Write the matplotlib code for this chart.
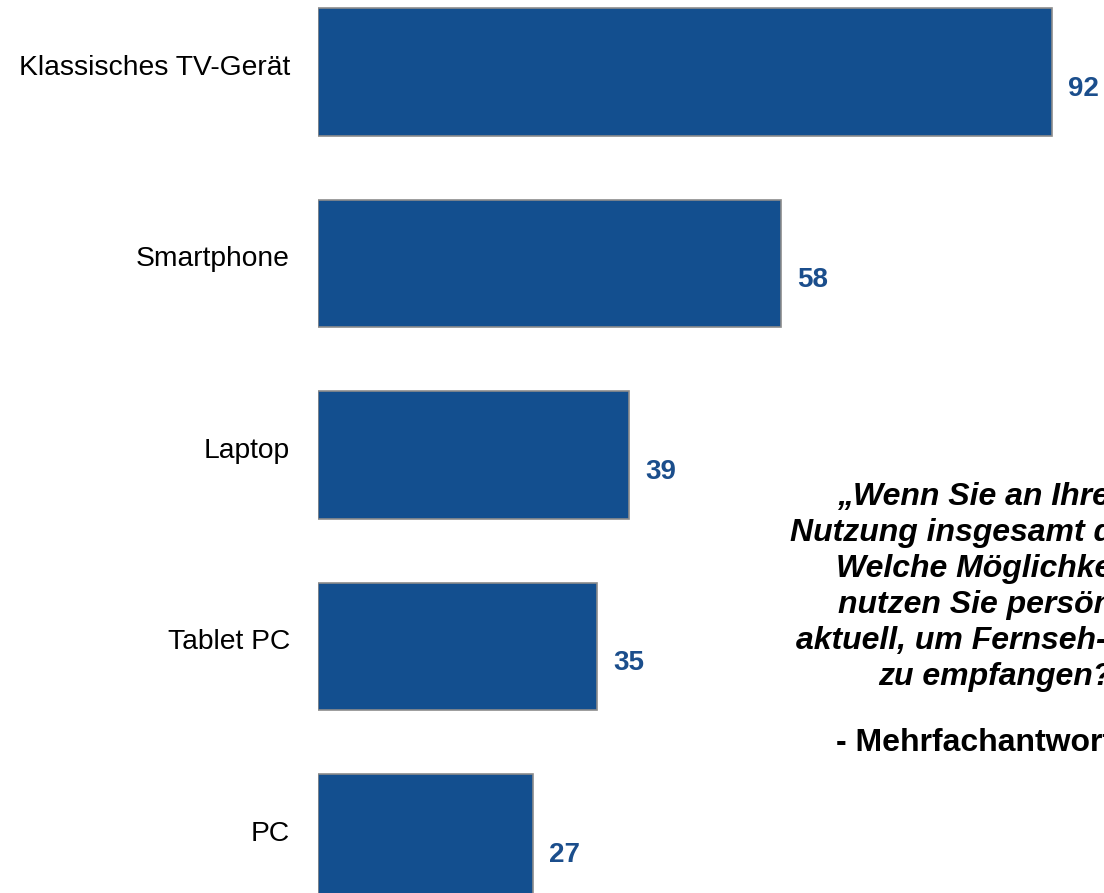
import matplotlib.pyplot as plt

# share of respondents using each device to receive TV content (%)
devices = ['Klassisches TV-Gerät', 'Smartphone', 'Laptop', 'Tablet PC', 'PC']
shares = [92, 58, 39, 35, 27]

question_lines = [
    '„Wenn Sie an Ihre TV-',
    'Nutzung insgesamt denken:',
    'Welche Möglichkeiten',
    'nutzen Sie persönlich',
    'aktuell, um Fernseh-Inhalte',
    'zu empfangen?“',
]
note = '- Mehrfachantworten -'

bar_color = '#134F8F'
label_color = '#1B4E8C'

plt.rcParams['font.family'] = ['Liberation Sans', 'DejaVu Sans']

W, H = 1104, 893
fig = plt.figure(figsize=(W / 100, H / 100), dpi=100)
# bars start at x=318 px, 7.98 px per percentage point
ax = fig.add_axes([318 / W, 0, 1 - 318 / W, 1])
ax.set_xlim(0, (W - 318) / 7.98)
# first bar centred at 72 px, 191.5 px between bars
ax.set_ylim((H - 72) / 191.5, -72 / 191.5)
ax.axis('off')

ypos = list(range(len(devices)))
ax.barh(ypos, shares, height=0.668, color=bar_color,
        edgecolor='#8C8C8C', linewidth=1.2)

for y, name, v in zip(ypos, devices, shares):
    ax.annotate(name, (0, y), xytext=(-28, -3), textcoords='offset pixels',
                ha='right', va='baseline', fontsize=20.3, color='black',
                annotation_clip=False)
    ax.annotate(str(v), (v, y), xytext=(16, -24), textcoords='offset pixels',
                ha='left', va='baseline', fontsize=20, fontweight='bold',
                color=label_color, annotation_clip=False)

# question text, centred at x=1003 px, running off the right edge
cx = 1003 / W
for i, line in enumerate(question_lines):
    fig.text(cx, 1 - (505 + i * 36) / H, line, ha='center', va='baseline',
             fontsize=23, fontweight='bold', fontstyle='italic')
fig.text(cx, 1 - 751 / H, note, ha='center', va='baseline',
         fontsize=23, fontweight='bold')

fig.savefig('out.png', dpi=100)
